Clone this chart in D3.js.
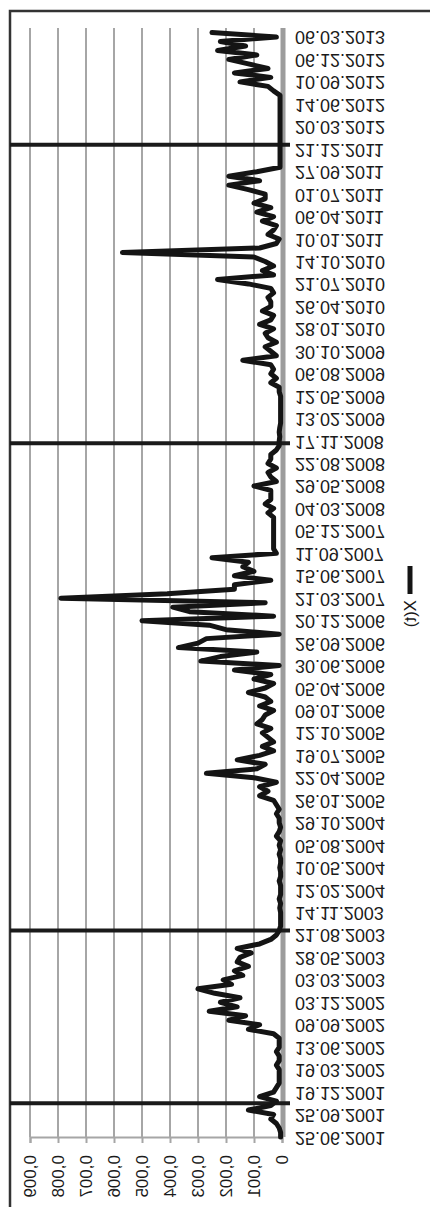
<!DOCTYPE html>
<html>
<head>
<meta charset="utf-8">
<script src="https://cdn.jsdelivr.net/npm/d3@7"></script>
<style>
  body { margin: 0; background: #fff; }
  text { font-family: "Liberation Sans", Arial, sans-serif; fill: #1a1a1a; }
</style>
</head>
<body>
<div id="chart"></div>
<script>
// category labels (one every 62 observations), bottom to top
var dateLabels = [
  "25.06.2001", "25.09.2001", "19.12.2001", "19.03.2002", "13.06.2002",
  "09.09.2002", "03.12.2002", "03.03.2003", "28.05.2003", "21.08.2003",
  "14.11.2003", "12.02.2004", "10.05.2004", "05.08.2004", "29.10.2004",
  "26.01.2005", "22.04.2005", "19.07.2005", "12.10.2005", "09.01.2006",
  "05.04.2006", "30.06.2006", "26.09.2006", "20.12.2006", "21.03.2007",
  "15.06.2007", "11.09.2007", "05.12.2007", "04.03.2008", "29.05.2008",
  "22.08.2008", "17.11.2008", "13.02.2009", "12.05.2009", "06.08.2009",
  "30.10.2009", "28.01.2010", "26.04.2010", "21.07.2010", "14.10.2010",
  "10.01.2011", "06.04.2011", "01.07.2011", "27.09.2011", "21.12.2011",
  "20.03.2012", "14.06.2012", "10.09.2012", "06.12.2012", "06.03.2013"
];

var valueTicks = [0, 0.001, 0.002, 0.003, 0.004, 0.005, 0.006, 0.007, 0.008, 0.009];
var tickLabels = ["0", "0,001", "0,002", "0,003", "0,004", "0,005", "0,006", "0,007", "0,008", "0,009"];

// X(t), 5 samples per label interval
var stepsPerLabel = 5;
var series = [
  0.00005, 0.00005, 0.0001, 0.0002, 0.0004,
  0.0003, 0.0012, 0.0004, 0.0002, 0.0008,
  0.0003, 0.0002, 0.0001, 0.0001, 0.0001,
  0.0001, 0.0002, 0.0001, 0.0001, 0.0002,
  0.0001, 0.0001, 0.0001, 0.0003, 0.0012,
  0.0008, 0.0019, 0.0013, 0.0026, 0.0016,
  0.0022, 0.0015, 0.0024, 0.0030, 0.0018,
  0.0021, 0.0014, 0.0017, 0.0012, 0.0016,
  0.0015, 0.0011, 0.0016, 0.0008, 0.0004,
  0.0002, 0.0001, 0.00005, 0.00005, 0.00005,
  0.00005, 0.00008, 0.00005, 0.0001, 0.00005,
  0.00005, 0.00005, 0.0001, 0.00005, 0.00005,
  0.00008, 0.00005, 0.00005, 0.0001, 0.00005,
  0.0001, 0.00005, 0.0002, 0.0001, 0.00005,
  0.0001, 0.0001, 0.0002, 0.0001, 0.0002,
  0.0003, 0.0008, 0.0005, 0.0008, 0.0002,
  0.0010, 0.0027, 0.0009, 0.0006, 0.0016,
  0.0008, 0.0003, 0.0007, 0.0003, 0.0005,
  0.0007, 0.0004, 0.0009, 0.0007, 0.0006,
  0.0003, 0.0008, 0.0004, 0.0006, 0.0012,
  0.0006, 0.0003, 0.0010, 0.0004, 0.0017,
  0.0001, 0.0029, 0.0022, 0.0009, 0.0037,
  0.0030, 0.0027, 0.0001, 0.0020, 0.0026,
  0.0050, 0.0003, 0.0033, 0.0039, 0.0006,
  0.0079, 0.0041, 0.0017, 0.0017, 0.0004,
  0.0017, 0.0010, 0.0014, 0.0012, 0.0025,
  0.0002, 0.0003, 0.0003, 0.0003, 0.0003,
  0.0003, 0.0003, 0.0003, 0.0003, 0.0005,
  0.0003, 0.0006, 0.0004, 0.0004, 0.0004,
  0.0010, 0.0002, 0.0004, 0.0005, 0.0002,
  0.0005, 0.0004, 0.0004, 0.0002, 0.0001,
  0.0001, 0.00008, 0.0001, 0.00008, 0.00005,
  0.00005, 0.00005, 0.00005, 0.00005, 0.00005,
  0.00005, 0.0001, 0.0001, 0.0004, 0.0002,
  0.0004, 0.0003, 0.0004, 0.0014, 0.0002,
  0.0004, 0.0006, 0.0002, 0.0005, 0.0006,
  0.0003, 0.0008, 0.0004, 0.0003, 0.0007,
  0.0004, 0.0004, 0.0005, 0.0003, 0.0004,
  0.0012, 0.0023, 0.0003, 0.0007, 0.0003,
  0.0006, 0.0010, 0.0057, 0.0008, 0.0002,
  0.0001, 0.0005, 0.0003, 0.0002, 0.0007,
  0.0003, 0.0009, 0.0004, 0.0010, 0.0006,
  0.0006, 0.0012, 0.0019, 0.0008, 0.0019,
  0.0009, 0.00007, 0.00007, 0.00007, 0.00007,
  0.00007, 0.00007, 0.00007, 0.00007, 0.00007,
  0.00007, 0.00007, 0.00007, 0.00007, 0.00007,
  0.00007, 0.00007, 0.00007, 0.0003, 0.0005,
  0.0015, 0.0004, 0.0017, 0.0005, 0.0012,
  0.0019, 0.0009, 0.0023, 0.0013, 0.0022,
  0.0002, 0.0025
];

// break markers, in label units
var breakPositions = [1.5, 9.2, 30.9, 44.2];
var legendLabel = "X(t)";

var width = 430, height = 1207;

var svg = d3.select("#chart")
  .append("svg")
    .attr("width", width)
    .attr("height", height);

// frame (cut at right and bottom)
svg.append("path")
  .attr("d", "M10," + height + "V11H" + width)
  .attr("fill", "none")
  .attr("stroke", "#333")
  .attr("stroke-width", 2.5);

// values run right to left, time runs bottom to top
var x = d3.scaleLinear().domain([0, 0.009]).range([282, 30]);
var y = d3.scaleLinear().domain([0, 49.4]).range([1137, 28]);

// the whole picture is a transposed chart: horizontal text reads downward, mirrored
var transposed = "matrix(0,1,1,0,0,0)";

// gridlines
svg.append("g")
  .selectAll("line")
  .data(valueTicks.slice(1))
  .enter().append("line")
    .attr("x1", function(d) { return x(d); })
    .attr("x2", function(d) { return x(d); })
    .attr("y1", y(49.4))
    .attr("y2", y(0))
    .attr("stroke", "#a6a6a6")
    .attr("stroke-width", 2);

// value axis at the bottom
var vAxis = svg.append("g")
  .attr("transform", "translate(0," + y(0) + ")")
  .call(d3.axisBottom(x)
    .tickValues(valueTicks)
    .tickSize(6)
    .tickFormat(function(d, i) { return tickLabels[i]; }));

vAxis.select(".domain")
  .attr("stroke", "#a6a6a6")
  .attr("stroke-width", 2);
vAxis.selectAll(".tick line")
  .attr("stroke", "#a6a6a6")
  .attr("stroke-width", 2);
vAxis.selectAll(".tick text")
  .attr("x", null).attr("y", null).attr("dy", null)
  .attr("text-anchor", "start")
  .attr("dominant-baseline", "central")
  .attr("transform", "matrix(0,1,1,0,0,18)")
  .style("font-size", "17px")
  .attr("fill", "#1a1a1a");

// category axis on the right, labels flipped
var cAxis = svg.append("g")
  .attr("transform", "translate(282,0)")
  .call(d3.axisRight(y)
    .tickValues(d3.range(dateLabels.length))
    .tickSize(0)
    .tickPadding(13)
    .tickFormat(function(d) { return dateLabels[d]; }));

cAxis.select(".domain").remove();
cAxis.selectAll(".tick text")
  .attr("dy", null)
  .attr("dominant-baseline", "central")
  .attr("transform", "scale(1,-1)")
  .style("font-size", "18px")
  .attr("fill", "#1a1a1a");

svg.append("line")
  .attr("x1", x(0) + 1).attr("x2", x(0) + 1)
  .attr("y1", y(49.4)).attr("y2", y(0))
  .attr("stroke", "#9c9c9c")
  .attr("stroke-width", 5);

// break markers
svg.append("g")
  .selectAll("line")
  .data(breakPositions)
  .enter().append("line")
    .attr("x1", 10)
    .attr("x2", x(0) + 8)
    .attr("y1", function(d) { return y(d); })
    .attr("y2", function(d) { return y(d); })
    .attr("stroke", "#1a1a1a")
    .attr("stroke-width", 4);

// the series
var line = d3.line()
  .x(function(d) { return x(d); })
  .y(function(d, i) { return y(i / stepsPerLabel); });

svg.append("path")
  .datum(series)
  .attr("d", line)
  .attr("fill", "none")
  .attr("stroke", "#141414")
  .attr("stroke-width", 5)
  .attr("stroke-linejoin", "round")
  .attr("stroke-linecap", "round");

// legend, centred on the chart height: sample first, then the name
var legend = svg.append("g").attr("transform", "translate(410,566)");
legend.append("line")
  .attr("x1", 0).attr("x2", 0)
  .attr("y1", 0).attr("y2", 28)
  .attr("stroke", "#141414")
  .attr("stroke-width", 5);
legend.append("text")
  .attr("transform", "matrix(0,1,1,0,0,34)")
  .attr("dominant-baseline", "central")
  .style("font-size", "17px")
  .text(legendLabel);
</script>
</body>
</html>
